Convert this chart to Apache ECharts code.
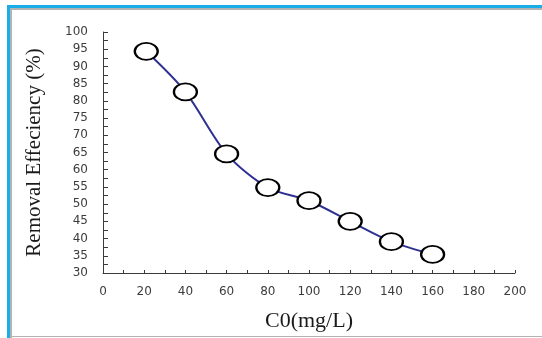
<!DOCTYPE html>
<html>
<head>
<meta charset="utf-8">
<script src="https://cdn.jsdelivr.net/npm/echarts@6/dist/echarts.min.js"></script>
<style>
  html, body { margin: 0; padding: 0; background: #ffffff; }
  #chart { width: 542px; height: 338px; }
</style>
</head>
<body>
<div id="chart"></div>
<script>
// Initial concentration (mg/L) and removal efficiency (%)
const concentrations = [21, 40, 60, 80, 100, 120, 140, 160];
const removalEfficiency = [94.4, 82.6, 64.6, 54.8, 51.0, 45.0, 39.1, 35.4];

const xAxisTitle = 'C0(mg/L)';
const yAxisTitle = 'Removal Effeciency (%)';

const points = concentrations.map((c, i) => [c, removalEfficiency[i]]);

const axisColor = '#3a3a3a';
const labelFont = { color: '#3c3c3c', fontFamily: 'DejaVu Sans', fontSize: 12 };

const chart = echarts.init(document.getElementById('chart'), null, { renderer: 'canvas' });

chart.setOption({
  backgroundColor: '#ffffff',
  animation: false,
  grid: { left: 103, right: 27, top: 32, bottom: 65 },
  xAxis: {
    type: 'value',
    min: 0,
    max: 200,
    interval: 20,
    name: xAxisTitle,
    nameLocation: 'middle',
    nameGap: 37,
    nameTextStyle: { fontFamily: 'Liberation Serif', fontSize: 22, color: '#1a1a1a' },
    axisLine: { show: true, lineStyle: { color: axisColor, width: 1 } },
    axisTick: { show: true, inside: true, length: 3, lineStyle: { color: axisColor } },
    minorTick: { show: true, splitNumber: 2, length: 3, lineStyle: { color: axisColor } },
    axisLabel: Object.assign({ margin: 13 }, labelFont),
    splitLine: { show: false }
  },
  yAxis: {
    type: 'value',
    min: 30,
    max: 100,
    interval: 5,
    name: yAxisTitle,
    nameLocation: 'middle',
    nameGap: 58,
    nameTextStyle: { fontFamily: 'Liberation Serif', fontSize: 21, color: '#1a1a1a' },
    axisLine: { show: true, lineStyle: { color: axisColor, width: 1 } },
    axisTick: { show: true, inside: true, length: 5, lineStyle: { color: axisColor } },
    minorTick: { show: true, splitNumber: 2, length: 5, lineStyle: { color: axisColor } },
    axisLabel: Object.assign({ margin: 15 }, labelFont),
    splitLine: { show: false }
  },
  series: [{
    type: 'line',
    data: points,
    smooth: 0.3,
    symbol: 'path://M0,10 A10,10 0 1,1 20,10 A10,10 0 1,1 0,10 Z',
    symbolSize: [23, 17],
    showSymbol: true,
    lineStyle: { color: '#2e3192', width: 2 },
    itemStyle: { color: '#ffffff', borderColor: '#000000', borderWidth: 2 },
    z: 3
  }],
  graphic: [
    // frame: blue outer edge with a grey inner shadow on top and left, grey rule at the bottom
    { type: 'rect', shape: { x: 7, y: 5, width: 535, height: 3 }, style: { fill: '#1aaee9' }, silent: true },
    { type: 'rect', shape: { x: 10, y: 8, width: 532, height: 2 }, style: { fill: '#b3b3b3' }, silent: true },
    { type: 'rect', shape: { x: 7, y: 5, width: 3, height: 333 }, style: { fill: '#1aaee9' }, silent: true },
    { type: 'rect', shape: { x: 10, y: 8, width: 2, height: 330 }, style: { fill: '#b3b3b3' }, silent: true },
    { type: 'rect', shape: { x: 12, y: 336, width: 530, height: 1 }, style: { fill: '#b3b3b3' }, silent: true }
  ]
});
</script>
</body>
</html>
